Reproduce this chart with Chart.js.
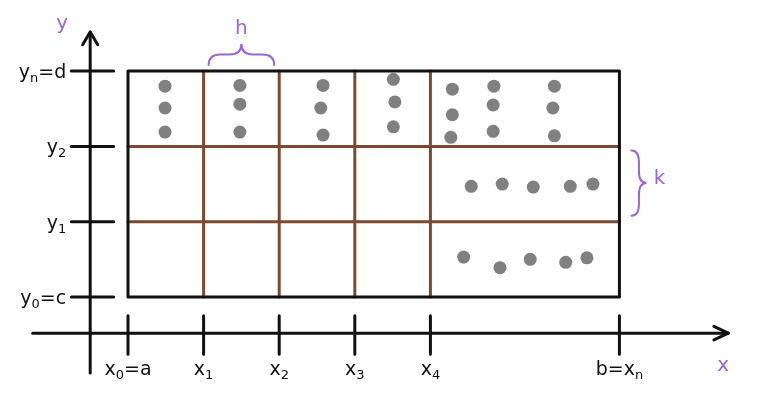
<!DOCTYPE html>
<html>
<head>
<meta charset="utf-8">
<script src="https://cdn.jsdelivr.net/npm/chart.js@4.4.1/dist/chart.umd.min.js"></script>
<style>
  html, body { margin: 0; background: #fff; }
  canvas { display: block; }
</style>
</head>
<body>
<canvas id="gridChart" width="758" height="404"></canvas>
<script>
// -----------------------------
// Data
// -----------------------------
// partition nodes (x in units of h, y in units of k)
const xNodes = [0, 1, 2, 3, 4, 6.5];
const yNodes = [0, 1, 2, 3];
const xTickLabels = ["x_0=a", "x_1", "x_2", "x_3", "x_4", "b=x_n"];
const yTickLabels = ["y_0=c", "y_1", "y_2", "y_n=d"];

// sample points
const pointsX = [0.49, 0.49, 0.49, 1.48, 1.48, 1.48, 2.58, 2.55, 2.58,
                 3.51, 3.53, 3.51, 4.29, 4.29, 4.27, 4.84, 4.83, 4.83,
                 5.64, 5.62, 5.64,
                 4.54, 4.95, 5.36, 5.85, 6.15,
                 4.44, 4.92, 5.32, 5.79, 6.07];
const pointsY = [2.80, 2.51, 2.19, 2.81, 2.56, 2.19, 2.81, 2.51, 2.15,
                 2.89, 2.59, 2.26, 2.76, 2.42, 2.12, 2.80, 2.55, 2.20,
                 2.80, 2.51, 2.14,
                 1.47, 1.50, 1.46, 1.47, 1.50,
                 0.53, 0.39, 0.50, 0.46, 0.52];

// where the coordinate axes sit, and how far they run
const axisX = -0.48;            // y value of the x axis
const axisY = -0.5;             // x value of the y axis
const xAxisRange = [-1.26, 7.94];
const yAxisRange = [-1.01, 3.52];

// -----------------------------
// Colours
// -----------------------------
const BLACK = "#111111";
const BROWN = "#7b4a31";
const GREY = "#808080";
const PURPLE = "#9a66d4";

// -----------------------------
// Build datasets
// -----------------------------
const x0 = xNodes[0], xn = xNodes[xNodes.length - 1];
const y0 = yNodes[0], yn = yNodes[yNodes.length - 1];

function seg(points, color, width, order) {
  return {
    type: "line",
    data: points,
    borderColor: color,
    borderWidth: width,
    pointRadius: 0,
    fill: false,
    tension: 0,
    borderCapStyle: "round",
    borderJoinStyle: "round",
    order: order
  };
}

const datasets = [];

// brown interior lines
xNodes.slice(1, -1).forEach(v => {
  datasets.push(seg([{ x: v, y: y0 }, { x: v, y: yn }], BROWN, 3, 3));
});
yNodes.slice(1, -1).forEach(v => {
  datasets.push(seg([{ x: x0, y: v }, { x: xn, y: v }], BROWN, 3, 3));
});

// outer rectangle
datasets.push(seg([
  { x: x0, y: y0 }, { x: xn, y: y0 }, { x: xn, y: yn }, { x: x0, y: yn }, { x: x0, y: y0 }
], BLACK, 3, 2));

// axes with arrow heads
datasets.push(seg([{ x: xAxisRange[0], y: axisX }, { x: xAxisRange[1], y: axisX }], BLACK, 3, 2));
datasets.push(seg([
  { x: xAxisRange[1] - 0.19, y: axisX + 0.09 }, { x: xAxisRange[1], y: axisX }, { x: xAxisRange[1] - 0.19, y: axisX - 0.09 }
], BLACK, 3, 2));
datasets.push(seg([{ x: axisY, y: yAxisRange[0] }, { x: axisY, y: yAxisRange[1] }], BLACK, 3, 2));
datasets.push(seg([
  { x: axisY - 0.1, y: yAxisRange[1] - 0.17 }, { x: axisY, y: yAxisRange[1] }, { x: axisY + 0.1, y: yAxisRange[1] - 0.17 }
], BLACK, 3, 2));

// tick marks crossing the axes
xNodes.forEach(v => {
  datasets.push(seg([{ x: v, y: axisX + 0.23 }, { x: v, y: axisX - 0.28 }], BLACK, 3, 2));
});
yNodes.forEach(v => {
  datasets.push(seg([{ x: axisY - 0.25, y: v }, { x: axisY + 0.31, y: v }], BLACK, 3, 2));
});

// sample points
datasets.push({
  type: "scatter",
  data: pointsX.map((x, i) => ({ x: x, y: pointsY[i] })),
  backgroundColor: GREY,
  borderWidth: 0,
  pointRadius: 6.5,
  order: 0
});

// -----------------------------
// Text + braces plugin
// -----------------------------
function drawLabel(ctx, text, px, py, align, color, size) {
  // "x_n" -> x with subscript n
  const parts = [];
  for (let i = 0; i < text.length; i++) {
    if (text[i] === "_" && i + 1 < text.length) {
      parts.push({ t: text[i + 1], sub: true });
      i++;
    } else {
      parts.push({ t: text[i], sub: false });
    }
  }
  const subSize = Math.round(size * 0.68);
  const font = s => s + "px 'DejaVu Sans', sans-serif";
  let width = 0;
  parts.forEach(p => {
    ctx.font = font(p.sub ? subSize : size);
    p.w = ctx.measureText(p.t).width;
    width += p.w;
  });
  let cx = align === "right" ? px - width : align === "center" ? px - width / 2 : px;
  ctx.fillStyle = color;
  ctx.textBaseline = "middle";
  ctx.textAlign = "left";
  parts.forEach(p => {
    ctx.font = font(p.sub ? subSize : size);
    ctx.fillText(p.t, cx, p.sub ? py + size * 0.3 : py);
    cx += p.w;
  });
}

function drawBrace(ctx, ax, ay, bx, by, w) {
  const len = Math.hypot(bx - ax, by - ay);
  const ang = Math.atan2(by - ay, bx - ax);
  const q = len * 0.18;
  ctx.save();
  ctx.translate(ax, ay);
  ctx.rotate(ang);
  ctx.beginPath();
  ctx.moveTo(0, 0);
  ctx.quadraticCurveTo(0, -w / 2, q, -w / 2);
  ctx.lineTo(len / 2 - q, -w / 2);
  ctx.quadraticCurveTo(len / 2, -w / 2, len / 2, -w);
  ctx.quadraticCurveTo(len / 2, -w / 2, len / 2 + q, -w / 2);
  ctx.lineTo(len - q, -w / 2);
  ctx.quadraticCurveTo(len, -w / 2, len, 0);
  ctx.strokeStyle = PURPLE;
  ctx.lineWidth = 2;
  ctx.lineCap = "round";
  ctx.stroke();
  ctx.restore();
}

const annotations = {
  id: "annotations",
  afterDatasetsDraw(chart) {
    const { ctx, scales: { x, y } } = chart;
    ctx.save();

    // tick labels
    const xLabelY = y.getPixelForValue(axisX) + 37;
    xNodes.forEach((v, i) => drawLabel(ctx, xTickLabels[i], x.getPixelForValue(v), xLabelY, "center", BLACK, 19));
    const yLabelX = x.getPixelForValue(axisY) - 24;
    yNodes.forEach((v, i) => drawLabel(ctx, yTickLabels[i], yLabelX, y.getPixelForValue(v) + 2, "right", BLACK, 19));

    // axis names
    drawLabel(ctx, "y", x.getPixelForValue(axisY) - 28, y.getPixelForValue(yAxisRange[1]) - 8, "center", PURPLE, 20);
    drawLabel(ctx, "x", x.getPixelForValue(xAxisRange[1]) - 5, y.getPixelForValue(axisX) + 33, "center", PURPLE, 20);

    // step width h between x1 and x2
    const hx1 = x.getPixelForValue(xNodes[1]) + 5;
    const hx2 = x.getPixelForValue(xNodes[2]) - 5;
    const hy = y.getPixelForValue(yn) - 6;
    drawBrace(ctx, hx1, hy, hx2, hy, 21);
    drawLabel(ctx, "h", (hx1 + hx2) / 2, hy - 36, "center", PURPLE, 20);

    // step height k between y2 and y1
    const kx = x.getPixelForValue(xn) + 12;
    const ky1 = y.getPixelForValue(yNodes[2]) + 4;
    const ky2 = y.getPixelForValue(yNodes[1]) - 6;
    drawBrace(ctx, kx, ky1, kx, ky2, 15);
    drawLabel(ctx, "k", kx + 28, (ky1 + ky2) / 2 - 4, "center", PURPLE, 20);

    ctx.restore();
  }
};

// -----------------------------
// Initialize
// -----------------------------
new Chart(document.getElementById("gridChart").getContext("2d"), {
  type: "scatter",
  data: { datasets: datasets },
  options: {
    responsive: false,
    animation: false,
    layout: { padding: 0, autoPadding: false },
    plugins: {
      legend: { display: false },
      tooltip: { enabled: false }
    },
    scales: {
      x: { type: "linear", min: -1.693, max: 8.333, display: false },
      y: { type: "linear", min: -1.421, max: 3.944, display: false }
    }
  },
  plugins: [annotations]
});
</script>
</body>
</html>
